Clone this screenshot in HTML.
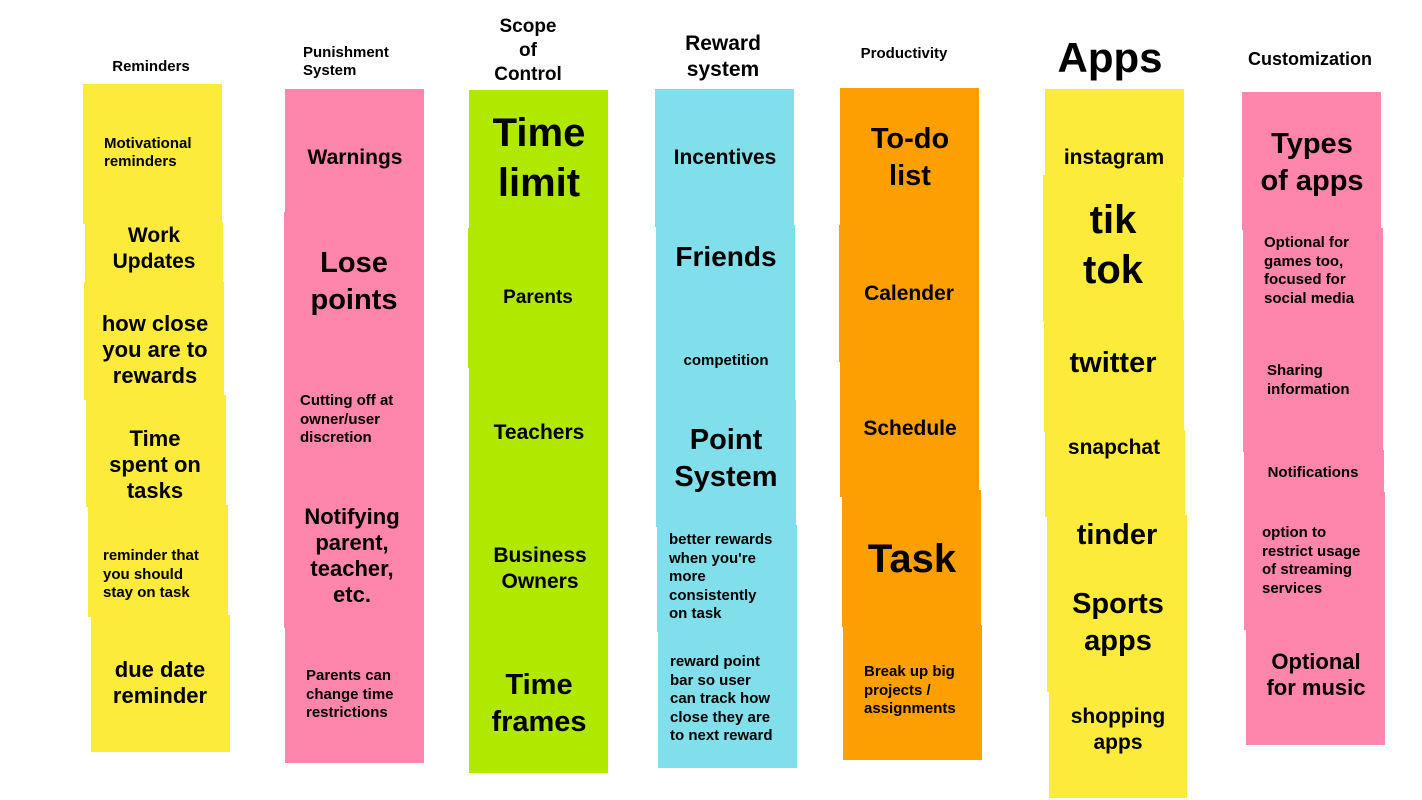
<!DOCTYPE html>
<html><head><meta charset="utf-8"><style>
body{margin:0;width:1422px;height:800px;background:#fff;position:relative;overflow:hidden;font-family:"Liberation Sans",Arial,sans-serif;font-weight:bold;color:#000}
.n{position:absolute}
.t{position:absolute;white-space:pre;line-height:1.2}
.c{transform:translateX(-50%);text-align:center}
.Y{background:#fdeb3c}.P{background:#fe85ab}.G{background:#b1e800}.B{background:#80dfea}.O{background:#fe9f00}
</style></head><body>
<!-- Reminders -->
<div class="n Y" style="left:83px;top:84px;width:139px;height:140px"></div>
<div class="n Y" style="left:85px;top:222px;width:138px;height:70px"></div>
<div class="n Y" style="left:84px;top:282px;width:140px;height:118px"></div>
<div class="n Y" style="left:86px;top:395px;width:140px;height:112px"></div>
<div class="n Y" style="left:88px;top:505px;width:140px;height:112px"></div>
<div class="n Y" style="left:91px;top:615px;width:139px;height:137px"></div>
<!-- Punishment -->
<div class="n P" style="left:285px;top:89px;width:139px;height:137px"></div>
<div class="n P" style="left:284px;top:212px;width:140px;height:140px"></div>
<div class="n P" style="left:284px;top:350px;width:140px;height:140px"></div>
<div class="n P" style="left:284px;top:488px;width:140px;height:140px"></div>
<div class="n P" style="left:285px;top:625px;width:139px;height:138px"></div>
<!-- Scope -->
<div class="n G" style="left:469px;top:90px;width:139px;height:140px"></div>
<div class="n G" style="left:468px;top:228px;width:140px;height:140px"></div>
<div class="n G" style="left:469px;top:366px;width:139px;height:136px"></div>
<div class="n G" style="left:469px;top:500px;width:139px;height:138px"></div>
<div class="n G" style="left:469px;top:636px;width:139px;height:137px"></div>
<!-- Reward -->
<div class="n B" style="left:655px;top:89px;width:139px;height:138px"></div>
<div class="n B" style="left:656px;top:225px;width:139px;height:93px"></div>
<div class="n B" style="left:656px;top:316px;width:139px;height:86px"></div>
<div class="n B" style="left:656px;top:400px;width:140px;height:127px"></div>
<div class="n B" style="left:657px;top:525px;width:140px;height:107px"></div>
<div class="n B" style="left:658px;top:630px;width:139px;height:138px"></div>
<!-- Productivity -->
<div class="n O" style="left:840px;top:88px;width:139px;height:139px"></div>
<div class="n O" style="left:839px;top:225px;width:140px;height:137px"></div>
<div class="n O" style="left:840px;top:360px;width:139px;height:137px"></div>
<div class="n O" style="left:842px;top:490px;width:139px;height:137px"></div>
<div class="n O" style="left:843px;top:625px;width:139px;height:135px"></div>
<!-- Apps -->
<div class="n Y" style="left:1045px;top:89px;width:139px;height:88px"></div>
<div class="n Y" style="left:1043px;top:175px;width:140px;height:147px"></div>
<div class="n Y" style="left:1044px;top:320px;width:140px;height:112px"></div>
<div class="n Y" style="left:1045px;top:430px;width:140px;height:87px"></div>
<div class="n Y" style="left:1047px;top:515px;width:140px;height:57px"></div>
<div class="n Y" style="left:1047px;top:570px;width:140px;height:122px"></div>
<div class="n Y" style="left:1049px;top:690px;width:138px;height:108px"></div>
<!-- Customization -->
<div class="n P" style="left:1242px;top:92px;width:139px;height:138px"></div>
<div class="n P" style="left:1243px;top:228px;width:140px;height:114px"></div>
<div class="n P" style="left:1243px;top:340px;width:140px;height:112px"></div>
<div class="n P" style="left:1244px;top:450px;width:140px;height:44px"></div>
<div class="n P" style="left:1244px;top:492px;width:141px;height:138px"></div>
<div class="n P" style="left:1246px;top:628px;width:139px;height:117px"></div>

<!-- headers -->
<div class="t c" style="left:151px;top:58px;font-size:15px">Reminders</div>
<div class="t" style="left:303px;top:44px;font-size:15px;line-height:18px">Punishment
System</div>
<div class="t c" style="left:528px;top:15px;font-size:19px;line-height:24px">Scope
of
Control</div>
<div class="t c" style="left:723px;top:31px;font-size:21px;line-height:26px">Reward
system</div>
<div class="t c" style="left:904px;top:45px;font-size:15px">Productivity</div>
<div class="t c" style="left:1110px;top:33px;font-size:42px">Apps</div>
<div class="t c" style="left:1310px;top:49px;font-size:18px">Customization</div>

<!-- Reminders text -->
<div class="t" style="left:104px;top:135px;font-size:15px;line-height:18px">Motivational
reminders</div>
<div class="t c" style="left:154px;top:223px;font-size:21px;line-height:26px">Work
Updates</div>
<div class="t c" style="left:155px;top:311px;font-size:22px;line-height:26px">how close
you are to
rewards</div>
<div class="t c" style="left:155px;top:426px;font-size:22px;line-height:26px">Time
spent on
tasks</div>
<div class="t" style="left:103px;top:547px;font-size:15px;line-height:18.5px">reminder that
you should
stay on task</div>
<div class="t c" style="left:160px;top:657px;font-size:22px;line-height:26px">due date
reminder</div>
<!-- Punishment text -->
<div class="t c" style="left:355px;top:145px;font-size:21px">Warnings</div>
<div class="t c" style="left:354px;top:245px;font-size:29px;line-height:37px">Lose
points</div>
<div class="t" style="left:300px;top:392px;font-size:15px;line-height:18.5px">Cutting off at
owner/user
discretion</div>
<div class="t c" style="left:352px;top:504px;font-size:22px;line-height:26px">Notifying
parent,
teacher,
etc.</div>
<div class="t" style="left:306px;top:667px;font-size:15px;line-height:18.5px">Parents can
change time
restrictions</div>
<!-- Scope text -->
<div class="t c" style="left:539px;top:108px;font-size:40px;line-height:50px">Time
limit</div>
<div class="t c" style="left:538px;top:287px;font-size:19px">Parents</div>
<div class="t c" style="left:539px;top:420px;font-size:21px">Teachers</div>
<div class="t c" style="left:540px;top:543px;font-size:21px;line-height:26px">Business
Owners</div>
<div class="t c" style="left:539px;top:667px;font-size:29px;line-height:37px">Time
frames</div>
<!-- Reward text -->
<div class="t c" style="left:725px;top:145px;font-size:21px">Incentives</div>
<div class="t c" style="left:726px;top:240px;font-size:28px">Friends</div>
<div class="t c" style="left:726px;top:352px;font-size:15px">competition</div>
<div class="t c" style="left:726px;top:422px;font-size:29px;line-height:37px">Point
System</div>
<div class="t" style="left:669px;top:531px;font-size:15px;line-height:18.5px">better rewards
when you're
more
consistently
on task</div>
<div class="t" style="left:670px;top:653px;font-size:15px;line-height:18.5px">reward point
bar so user
can track how
close they are
to next reward</div>
<!-- Productivity text -->
<div class="t c" style="left:910px;top:121px;font-size:29px;line-height:37px">To-do
list</div>
<div class="t c" style="left:909px;top:281px;font-size:21px">Calender</div>
<div class="t c" style="left:910px;top:416px;font-size:21px">Schedule</div>
<div class="t c" style="left:912px;top:535px;font-size:40px">Task</div>
<div class="t" style="left:864px;top:663px;font-size:15px;line-height:18.5px">Break up big
projects /
assignments</div>
<!-- Apps text -->
<div class="t c" style="left:1114px;top:145px;font-size:21px">instagram</div>
<div class="t c" style="left:1113px;top:195px;font-size:40px;line-height:50px">tik
tok</div>
<div class="t c" style="left:1113px;top:346px;font-size:29px">twitter</div>
<div class="t c" style="left:1114px;top:435px;font-size:21px">snapchat</div>
<div class="t c" style="left:1117px;top:518px;font-size:29px">tinder</div>
<div class="t c" style="left:1118px;top:586px;font-size:29px;line-height:37px">Sports
apps</div>
<div class="t c" style="left:1118px;top:704px;font-size:21px;line-height:26px">shopping
apps</div>
<!-- Customization text -->
<div class="t c" style="left:1312px;top:126px;font-size:29px;line-height:37px">Types
of apps</div>
<div class="t" style="left:1264px;top:234px;font-size:15px;line-height:18.5px">Optional for
games too,
focused for
social media</div>
<div class="t" style="left:1267px;top:362px;font-size:15px;line-height:18.5px">Sharing
information</div>
<div class="t c" style="left:1313px;top:464px;font-size:15px">Notifications</div>
<div class="t" style="left:1262px;top:524px;font-size:15px;line-height:18.5px">option to
restrict usage
of streaming
services</div>
<div class="t c" style="left:1316px;top:649px;font-size:22px;line-height:26px">Optional
for music</div>
</body></html>
